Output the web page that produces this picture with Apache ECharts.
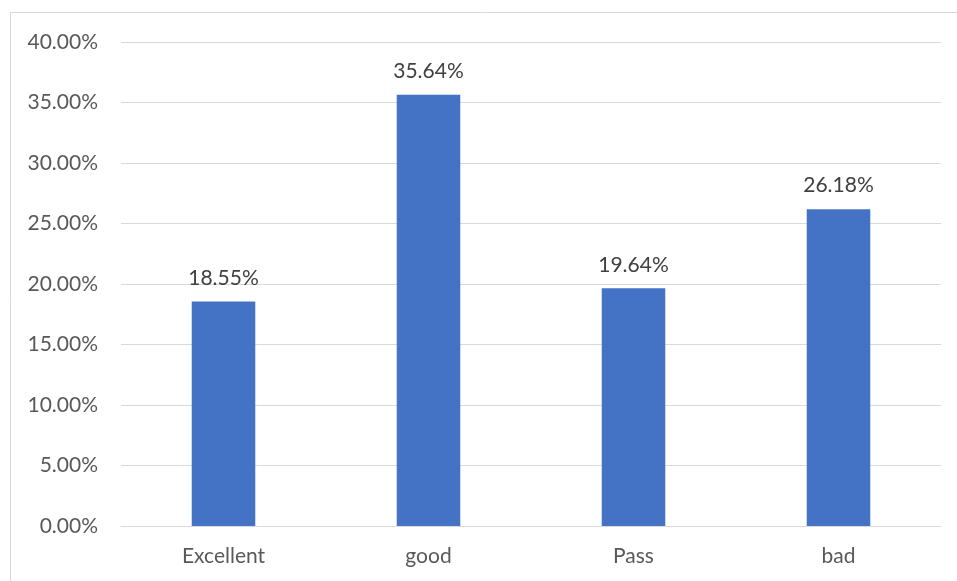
<!DOCTYPE html>
<html><head><meta charset="utf-8">
<script src="https://cdn.jsdelivr.net/npm/echarts@6/dist/echarts.min.js"></script>
<style>html,body{margin:0;padding:0;background:#fff}#c{width:957px;height:581px}</style>
</head><body><div id="c"></div>
<script>
const categories = ['Excellent', 'good', 'Pass', 'bad'];
const values = [18.55, 35.64, 19.64, 26.18];
const yTicks = [0, 5, 10, 15, 20, 25, 30, 35, 40];

const chart = echarts.init(document.getElementById('c'));
const FONT = 'Lato';
chart.setOption({
  animation: false,
  graphic: [{
    type: 'rect', shape: { x: 10.5, y: 12.5, width: 960, height: 600 },
    style: { fill: 'none', stroke: '#d9d9d9', lineWidth: 1 }, silent: true
  }],
  grid: { left: 121, right: 16, top: 42, bottom: 55 },
  xAxis: {
    type: 'category', data: categories,
    axisLine: { lineStyle: { color: '#d9d9d9', width: 1 } },
    axisTick: { show: false },
    axisLabel: { color: '#595959', fontSize: 21, fontFamily: FONT, margin: 20 }
  },
  yAxis: {
    type: 'value', min: yTicks[0], max: yTicks[yTicks.length - 1], interval: 5,
    axisLine: { show: false }, axisTick: { show: false },
    splitLine: { lineStyle: { color: '#d9d9d9', width: 1 } },
    axisLabel: { color: '#595959', fontSize: 21, fontFamily: FONT, margin: 23,
      formatter: v => v.toFixed(2) + '%' }
  },
  series: [{
    type: 'bar', data: values, barWidth: '31%',
    itemStyle: { color: '#4472c4' },
    label: { show: true, position: 'top', distance: 13, color: '#404040', fontSize: 21,
      fontFamily: FONT, formatter: p => p.value.toFixed(2) + '%' }
  }]
});
</script></body></html>
